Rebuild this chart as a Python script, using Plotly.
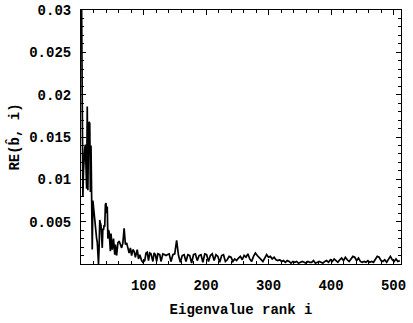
import plotly.graph_objects as go

# Eigenvalue rank
ranks = [1, 2, 3, 4, 5, 6, 7, 8, 9, 10, 11, 12, 13, 14, 15, 16, 17, 18, 19, 20,
         21, 22, 23, 24, 25, 26, 27, 28, 29, 30, 31, 32, 33, 34, 35, 36, 37, 38, 39, 40,
         41, 42, 43, 44, 45, 46, 47, 48, 49, 50, 52, 54, 55, 57, 59, 61, 63, 65, 67, 69,
         71, 73, 75, 77, 79, 81, 83, 85, 87, 90, 92, 94, 97, 99, 102, 104, 106, 108, 110, 112,
         115, 117, 119, 121, 123, 126, 128, 131, 134, 136,
         138, 141, 144, 147, 150, 153, 156, 159, 162, 165, 168, 171, 174, 177, 180, 183, 186, 189,
         192, 195, 198, 201, 204, 207, 210, 213, 216, 219, 222, 225, 228, 231, 234, 237, 240, 243,
         246, 249, 252, 255, 258, 261, 264, 267, 270, 273, 276, 279, 282, 285, 288, 291, 294, 297,
         300, 303, 306, 309, 312, 315, 318, 321, 324, 327, 330, 333, 336, 339, 342, 345, 348, 351,
         354, 357, 360, 363, 366, 369, 372, 375, 378, 381, 384, 387, 390, 393, 396, 399, 402, 405,
         408, 411, 414, 417, 420, 423, 426, 429, 432, 435, 438, 441, 444, 447, 450, 453, 456, 459,
         462, 465, 468, 471, 474, 477, 480, 483, 486, 489, 492, 495, 498, 501, 504, 507, 510]

# RE(b^, i) in units of 1e-4
re_e4 = [300, 220, 80, 110, 130, 137, 141, 120, 89, 186, 87, 150, 168, 166, 85, 140, 80, 17, 75, 66,
         60, 50, 45, 38, 30, 26, 10, 0, 20, 52, 48, 46, 30, 19, 42, 40, 46, 44, 70, 72,
         60, 68, 30, 40, 38, 25, 15, 36, 28, 17, 30, 11, 23, 10, 25, 27, 23, 19, 25, 42,
         23, 25, 19, 13, 19, 10, 17, 15, 8, 17, 6, 11, 4, 2, 4, 13, 14, 4, 13, 12,
         3, 13, 11, 3, 12, 11, 3, 12, 11, 10,
         11, 12, 3, 11, 12, 28, 10, 2, 10, 11, 3, 11, 10, 1, 11, 12, 4, 10,
         11, 2, 12, 11, 3, 10, 12, 4, 11, 9, 2, 10, 11, 3, 5, 9, 8, 3,
         6, 4, 7, 9, 5, 10, 8, 12, 6, 3, 9, 13, 10, 8, 5, 3, 7, 11,
         8, 9, 6, 8, 5, 4, 5, 3, 4, 2, 4, 3, 1, 3, 2, 3, 1, 2,
         3, 2, 1, 3, 2, 2, 4, 1, 2, 3, 2, 1, 3, 4, 2, 5, 3, 6,
         4, 2, 5, 7, 4, 8, 5, 3, 6, 9, 8, 4, 7, 3, 2, 3, 2, 4,
         2, 3, 2, 5, 9, 8, 4, 3, 5, 2, 6, 9, 5, 3, 6, 3, 4]

re_vals = [v * 1e-4 for v in re_e4]

x_ticks = [100, 200, 300, 400, 500]
x_ticktext = ["100", "200", "300", "400", "500"]
y_ticks = [0.005, 0.01, 0.015, 0.02, 0.025, 0.03]
y_ticktext = ["0.005", "0.01", "0.015", "0.02", "0.025", "0.03"]

font_fam = "Liberation Mono, Courier New, monospace"

fig = go.Figure()
fig.add_trace(go.Scatter(x=ranks, y=re_vals, mode="lines",
                         line=dict(color="black", width=1.7), showlegend=False))

axis_common = dict(
    showgrid=False, zeroline=False, showline=True, linecolor="black", linewidth=1,
    mirror="allticks", ticks="inside", ticklen=5, tickcolor="black", tickwidth=1,
    automargin=False, ticklabeloverflow="allow",
    tickfont=dict(family=font_fam, size=14, color="black", weight="bold"),
)

fig.update_layout(
    width=413, height=323,
    margin=dict(l=81, r=12, t=10, b=59),
    paper_bgcolor="white", plot_bgcolor="white",
    xaxis=dict(range=[0, 512], tickvals=x_ticks, ticktext=x_ticktext,
               minor=dict(dtick=20, tick0=0, ticks="inside", ticklen=3, tickcolor="black"),
               ticklabelstandoff=8,
               title=dict(text="Eigenvalue rank i", standoff=11,
                          font=dict(family=font_fam, size=14, color="black", weight="bold")),
               **axis_common),
    yaxis=dict(range=[0, 0.03], tickvals=y_ticks, ticktext=y_ticktext,
               minor=dict(dtick=0.001, tick0=0, ticks="inside", ticklen=3, tickcolor="black"),
               ticklabelstandoff=6,
               title=dict(text="RE(b\u0302, i)", standoff=6,
                          font=dict(family=font_fam, size=14, color="black", weight="bold")),
               **axis_common),
)

# remove the page's default body margin so the figure fills the window exactly
fig.write_html("out.html", config={"displayModeBar": False},
               post_script="document.body.style.margin='0';")
